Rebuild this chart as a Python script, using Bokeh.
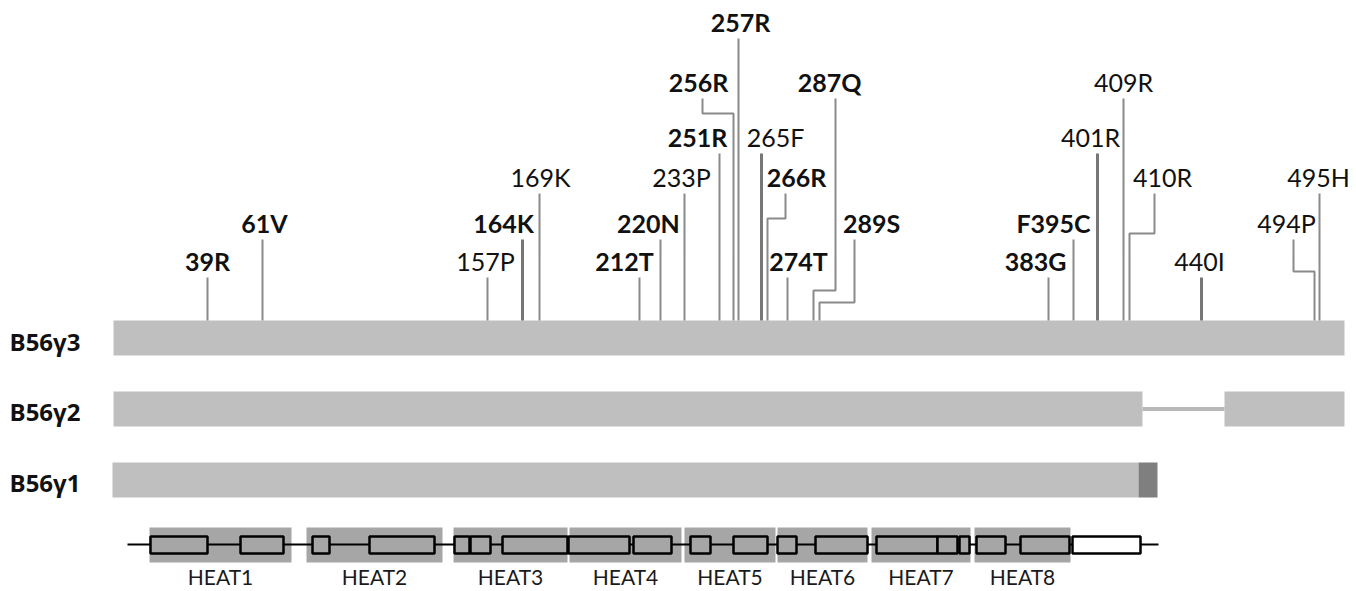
from bokeh.plotting import figure
from bokeh.models import Range1d
from bokeh.core.properties import value
from bokeh.embed import file_html
from bokeh.resources import INLINE

# ---------------- data ----------------
isoforms = ["B56γ3", "B56γ2", "B56γ1"]
# protein bar segments (schematic x units)
seg_isoform = ["B56γ3", "B56γ2", "B56γ2", "B56γ1"]
seg_start = [113, 113, 1224, 112]
seg_end = [1344, 1142, 1344, 1138]
# spliced region joining the two B56γ2 segments
gap_isoform = ["B56γ2"]
gap_start = [1142]
gap_end = [1224]
# unique C-terminal tail of B56γ1
tail_isoform = ["B56γ1"]
tail_start = [1138]
tail_end = [1157]

# mutations on B56γ3
mut_labels = ["39R", "61V", "157P", "164K", "169K", "212T", "220N", "233P",
              "251R", "256R", "257R", "265F", "266R", "274T", "287Q", "289S",
              "383G", "F395C", "401R", "409R", "410R", "440I", "494P", "495H"]
mut_pos = [207, 262, 487, 522, 539, 639, 660, 684,
           719, 733, 738, 761, 767, 787, 813, 819,
           1048, 1073, 1097, 1123, 1129, 1201, 1314, 1319]
mut_top = [207, 262, 487, 522, 539, 639, 660, 684,
           719, 702, 738, 761, 785, 787, 835, 854,
           1048, 1073, 1097, 1123, 1154, 1201, 1293, 1319]
mut_tier = [0, 1, 0, 1, 2, 0, 1, 2,
            3, 4, 5, 3, 2, 0, 4, 1,
            0, 1, 3, 4, 2, 0, 1, 2]
mut_bold = [1, 1, 0, 1, 0, 1, 1, 0,
            1, 1, 1, 0, 1, 1, 1, 1,
            1, 1, 0, 0, 0, 0, 0, 0]

# HEAT repeats and exon structure
heat_names = ["HEAT1", "HEAT2", "HEAT3", "HEAT4", "HEAT5", "HEAT6", "HEAT7", "HEAT8"]
heat_start = [149, 306, 453, 569, 684, 777, 871, 974]
heat_end = [291, 442, 567, 681, 775, 867, 970, 1070]
exon_start = [150, 240, 312, 369, 454, 470, 502, 568, 633, 690, 733, 777,
              815, 876, 937, 959, 976, 1020, 1072]
exon_end = [207, 283, 329, 434, 469, 490, 567, 629, 671, 710, 767, 796,
            867, 937, 957, 969, 1005, 1069, 1140]
exon_coding = [1] * 18 + [0]
gene_start = 127
gene_end = 1158

# ---------------- layout / style ----------------
row_top = {"B56γ3": 320, "B56γ2": 391, "B56γ1": 462}
row_h = 35
row_label_base = {"B56γ3": 352, "B56γ2": 422, "B56γ1": 493}
tier_base = [271, 233, 187, 147, 92, 32]
stem_gap = 6
elbow_y = {"256R": 113, "266R": 218, "287Q": 290, "289S": 302, "410R": 233, "494P": 271}
label_dx = {"39R": 0, "61V": 2, "157P": -2, "164K": -19, "169K": 1, "212T": -15,
            "220N": -12, "233P": -3, "251R": -22, "256R": -4, "257R": 2, "265F": 14,
            "266R": 11, "274T": 11, "287Q": -6, "289S": 17, "383G": -13, "F395C": -20,
            "401R": -7, "409R": 0, "410R": 8, "440I": -2, "494P": -7, "495H": -1}
thick = {"164K", "265F", "401R", "440I"}
heat_box = (527, 562)
exon_box = (536, 553)
gene_y = 544
heat_label_base = 587
TXT_DY = -11  # renderer puts alphabetic baseline ~11px low; compensate

BAR = "#BFBFBF"
DARK = "#7F7F7F"
HEATC = "#A6A6A6"
STEM = "#8A8A8A"
FONT = "Lato"
W, H = 1356, 590

p = figure(width=W, height=H, output_backend="svg", toolbar_location=None,
           x_axis_location=None, y_axis_location=None,
           x_range=Range1d(0, W), y_range=Range1d(H, 0),
           min_border=0, outline_line_color=None)
p.xgrid.visible = False
p.ygrid.visible = False
p.background_fill_color = "white"

# isoform bars
p.quad(left=seg_start, right=seg_end,
       top=[row_top[i] for i in seg_isoform],
       bottom=[row_top[i] + row_h for i in seg_isoform],
       fill_color=BAR, line_color=None)
for iso, a, b in zip(gap_isoform, gap_start, gap_end):
    yc = row_top[iso] + row_h / 2
    p.segment(x0=[a], y0=[yc], x1=[b], y1=[yc], line_color="#B8B8B8", line_width=4)
p.quad(left=tail_start, right=tail_end,
       top=[row_top[i] for i in tail_isoform],
       bottom=[row_top[i] + row_h for i in tail_isoform],
       fill_color=DARK, line_color=None)

# isoform labels
p.text(x=[9] * len(isoforms), y=[row_label_base[i] for i in isoforms], text=isoforms,
       text_font=value("Open Sans"), text_font_style="bold", text_font_size="24px",
       text_color="#111111", text_baseline="alphabetic", text_align="left",
       y_offset=TXT_DY)

# stems
bar_top = row_top["B56γ3"]
xs_thin, ys_thin, xs_thick, ys_thick = [], [], [], []
lab = {0: dict(x=[], y=[], t=[]), 1: dict(x=[], y=[], t=[])}
for name, pos, top, tier, bold in zip(mut_labels, mut_pos, mut_top, mut_tier, mut_bold):
    ty = tier_base[tier] + stem_gap
    if name in elbow_y:
        ey = elbow_y[name]
        xs = [pos, pos, top, top]
        ys = [bar_top, ey, ey, ty]
    else:
        xs = [pos, pos]
        ys = [bar_top, ty]
    if name in thick:
        xs_thick.append(xs); ys_thick.append(ys)
    else:
        xs_thin.append(xs); ys_thin.append(ys)
    lab[bold]["x"].append(top + label_dx[name])
    lab[bold]["y"].append(tier_base[tier])
    lab[bold]["t"].append(name)

p.multi_line(xs=xs_thin, ys=ys_thin, line_color=STEM, line_width=2)
p.multi_line(xs=xs_thick, ys=ys_thick, line_color="#777777", line_width=3)

for b, style in ((1, "bold"), (0, "normal")):
    p.text(x=lab[b]["x"], y=lab[b]["y"], text=lab[b]["t"],
           text_font=value(FONT), text_font_style=style, text_font_size="25px",
           text_color="#111111", text_baseline="alphabetic", text_align="center",
           y_offset=TXT_DY)

# HEAT domains and gene structure
p.quad(left=heat_start, right=heat_end, top=[heat_box[0]] * len(heat_start),
       bottom=[heat_box[1]] * len(heat_start), fill_color=HEATC, line_color=None)
p.segment(x0=[gene_start], y0=[gene_y], x1=[gene_end], y1=[gene_y],
          line_color="black", line_width=2)
p.quad(left=exon_start, right=exon_end, top=[exon_box[0]] * len(exon_start),
       bottom=[exon_box[1]] * len(exon_start),
       fill_color=[HEATC if c else "white" for c in exon_coding],
       line_color="black", line_width=2.5)
p.text(x=[(a + b) / 2 for a, b in zip(heat_start, heat_end)],
       y=[heat_label_base] * len(heat_names), text=heat_names,
       text_font=value(FONT), text_font_size="21px", text_color="#1a1a1a",
       text_baseline="alphabetic", text_align="center", y_offset=TXT_DY)

open("out.html", "w").write(file_html(p, INLINE))
